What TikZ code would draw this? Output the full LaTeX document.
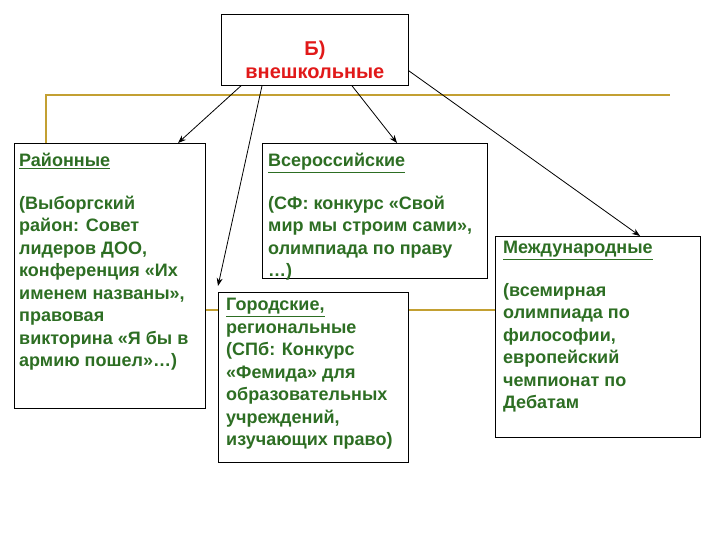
\documentclass[tikz,border=0pt]{standalone}
\usepackage{fontspec}
\setmainfont{Liberation Sans}
\usetikzlibrary{arrows.meta,positioning,calc}
\definecolor{leafgreen}{RGB}{45,110,35}
\definecolor{brickred}{RGB}{225,25,25}
\definecolor{oldgold}{RGB}{195,160,50}

\begin{document}
\begin{tikzpicture}[x=1pt,y=-1pt,
  box/.style={draw,fill=white,line width=0.8pt,anchor=north west,inner sep=0pt},
  txt/.style={anchor=north west,inner sep=0pt,align=left,text=leafgreen,font=\fontsize{18}{22.5}\selectfont\bfseries},
  goldline/.style={draw=oldgold,line width=2pt},
  arr/.style={-{Stealth[length=8pt,width=6pt]},line width=0.8pt}]
  \useasboundingbox[fill=white] (0,0) rectangle (720,540);
  \node[box,minimum width=187pt,minimum height=71pt] (vnesh) at (221,14) {};
  \node[align=center,text=brickred,font=\fontsize{20}{23}\selectfont\bfseries] (vneshtxt) at ([yshift=-9.5pt]vnesh.center) {Б)\\внешкольные};
  \node[box,minimum width=191pt,minimum height=265pt] (rayon) at (14,143) {};
  \node[box,minimum width=225pt,minimum height=135pt] (vseross) at (262,143) {};
  \node[box,minimum width=190pt,minimum height=170pt] (gorod) at (218,292) {};
  \node[box,minimum width=205pt,minimum height=201pt] (mezh) at (495,236) {};
  \node[txt] (rayontxt) at ([shift={(5pt,-10pt)}]rayon.north west) {\underline{Районные}\\[20pt]
    (Выборгский\\район: Совет\\лидеров ДОО,\\конференция «Их\\именем названы»,\\правовая\\викторина «Я бы в\\армию пошел»…)};
  \node[txt] (vserosstxt) at ([shift={(6pt,-10pt)}]vseross.north west) {\underline{Всероссийские}\\[20pt]
    (СФ: конкурс «Свой\\мир мы строим сами»,\\олимпиада по праву\\…)};
  \node[txt] (gorodtxt) at ([shift={(8pt,-6pt)}]gorod.north west) {\underline{Городские,}\\региональные\\(СПб: Конкурс\\«Фемида» для\\образовательных\\учреждений,\\изучающих право)};
  \node[txt] (mezhtxt) at ([shift={(8pt,-5pt)}]mezh.north west) {\underline{Международные}\\[20pt]
    (всемирная\\олимпиада по\\философии,\\европейский\\чемпионат по\\Дебатам};
  \coordinate (goldend) at (670,95);
  \coordinate (goldmid) at (0,310);
  \draw[goldline] ([xshift=32pt]rayon.north west) |- (goldend);
  \draw[goldline] (rayon.east |- goldmid) -- (gorod.west |- goldmid);
  \draw[goldline] (gorod.east |- goldmid) -- (mezh.west |- goldmid);
  \draw[arr] ([xshift=20pt]vnesh.south west) -- ([xshift=164pt]rayon.north west);
  \draw[arr] ([xshift=41pt]vnesh.south west) -- ([yshift=6pt]gorod.north west);
  \draw[arr] ([xshift=131pt]vnesh.south west) -- ([xshift=135pt]vseross.north west);
  \draw[arr] ([yshift=15pt]vnesh.south east) -- ([xshift=145pt]mezh.north west);
\end{tikzpicture}
\end{document}
